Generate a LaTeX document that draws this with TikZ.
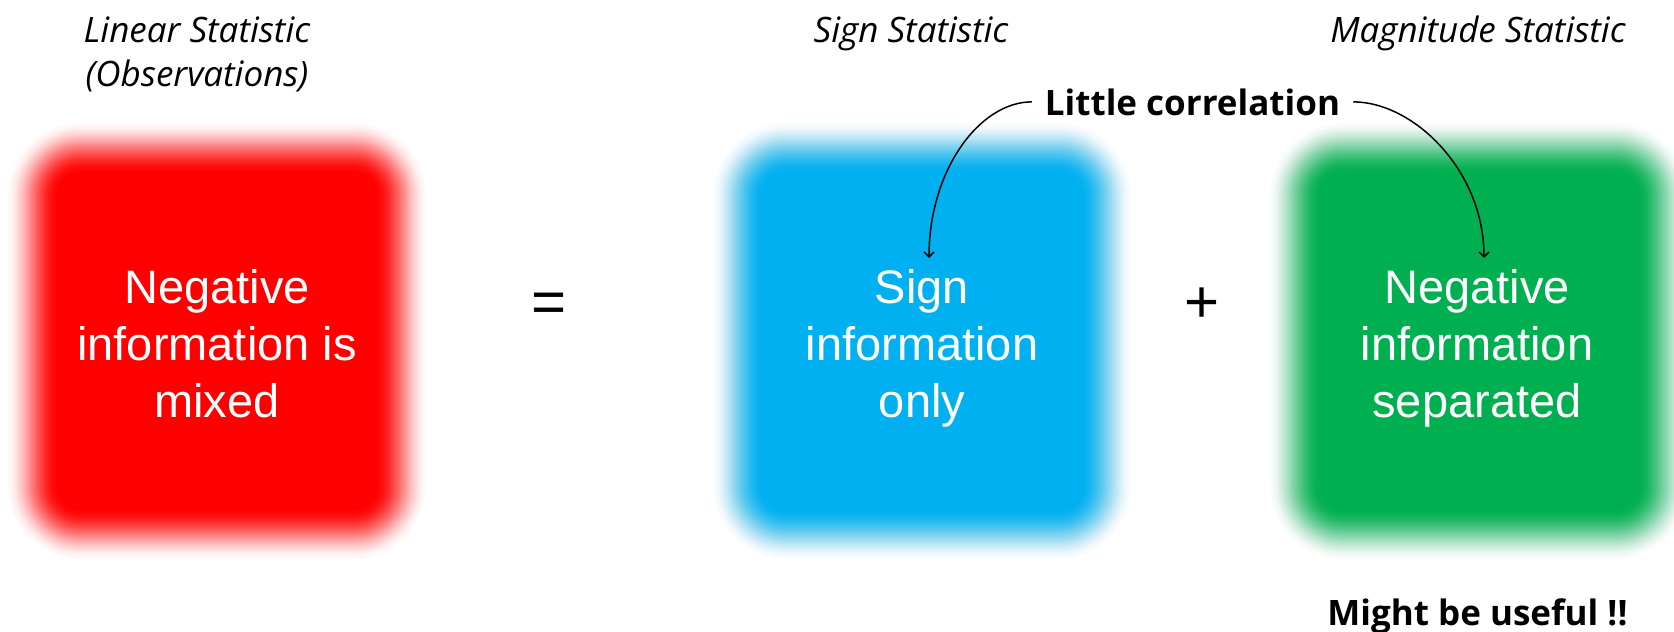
\documentclass[tikz,border=0pt]{standalone}
\usepackage{fontspec}
\setmainfont{Liberation Sans}
\newfontfamily\uifont{Open Sans}
\usetikzlibrary{arrows.meta}

\definecolor{boxred}{HTML}{FF0000}
\definecolor{boxblue}{HTML}{00B0F0}
\definecolor{boxgreen}{HTML}{00B050}

% Soft-edged rounded box: colour, centre x, centre y (page units, y down).
% Layers are stacked from the outside in so that the edge follows a smooth ramp.
\newcommand{\softbox}[3]{%
  \foreach \k in {1,...,36}{%
    \pgfmathsetmacro\offs{-2*28*sin(asin(2*(\k-0.5)/36-1)/3)}%
    \pgfmathsetmacro\alp{1/(37-\k)}%
    \pgfmathsetmacro\rad{48+\offs}%
    \fill[#1, fill opacity=\alp, rounded corners=\rad pt]
      (#2-184.5-\offs, #3-193.5-\offs) rectangle (#2+184.5+\offs, #3+193.5+\offs);
  }%
}

\tikzset{
  boxtext/.style={text=white, inner sep=0pt, anchor=base,
    font=\fontsize{47}{57}\selectfont},
  heading/.style={inner sep=0pt, anchor=base,
    font=\uifont\itshape\fontsize{35}{44}\selectfont},
  callout/.style={inner sep=0pt, anchor=base,
    font=\uifont\bfseries\fontsize{35}{42}\selectfont},
  operator/.style={inner sep=0pt, anchor=base,
    font=\fontsize{60}{70}\selectfont},
  link/.style={draw=black, line width=1.5pt,
    -{Straight Barb[length=5pt,width=10pt]}},
}

\begin{document}
\begin{tikzpicture}[x=1pt, y=-1pt]
\useasboundingbox (0,0) rectangle (1674,632);
\fill[white] (0,0) rectangle (1674,632);

% coloured panels
\softbox{boxred}{217}{341}
\softbox{boxblue}{922}{341}
\softbox{boxgreen}{1479}{341}

% panel texts
\node[boxtext] (mixed) at (217,303)
  {\begin{tabular}[t]{@{}c@{}}Negative\\information is\\mixed\end{tabular}};
\node[boxtext] (sign) at (922,303)
  {\begin{tabular}[t]{@{}c@{}}Sign\\information\\only\end{tabular}};
\node[boxtext] (magn) at (1477,303)
  {\begin{tabular}[t]{@{}c@{}}Negative\\information\\separated\end{tabular}};

% headings
\node[heading] (hlin) at (197,42)
  {\begin{tabular}[t]{@{}c@{}}Linear Statistic\\(Observations)\end{tabular}};
\node[heading] (hsign) at (911,42) {Sign Statistic};
\node[heading] (hmagn) at (1478,42) {Magnitude Statistic};

% operators
\node[operator] (eq) at (549.5,322) {=};
\node[operator] (plus) at (1202.5,322) {+};

% remarks
\node[callout, inner xsep=13pt] (corr) at (1192.5,115) {Little correlation};
\node[callout] (useful) at (1477.5,625) {Might be useful !!};

% arrow ends
\coordinate (signtip) at (929,258);
\coordinate (magntip) at (1484,258);

\draw[link] (corr.west) .. controls +(-52,0) and +(0,-88) .. (signtip);
\draw[link] (corr.east) .. controls +(60,0) and +(0,-88) .. (magntip);
\end{tikzpicture}
\end{document}
